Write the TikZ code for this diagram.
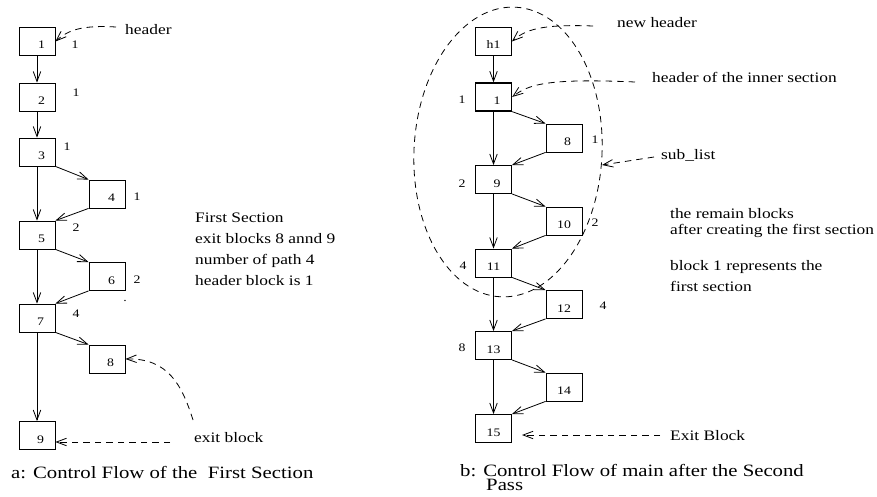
\documentclass[tikz,border=0pt]{standalone}
\usepackage{fontspec}
\setmainfont{Liberation Serif}[FakeStretch=1.2]
\usetikzlibrary{arrows.meta,calc,shapes.geometric}
\begin{document}
\begin{tikzpicture}[x=1pt,y=-1pt,
  blk/.style={draw, line width=0.8pt, minimum width=36pt, minimum height=28pt, inner sep=0pt,
              text height=15pt, text depth=0pt, font=\fontsize{11.5}{13}\selectfont},
  num/.style={font=\fontsize{11.5}{13}\selectfont, inner sep=0pt},
  note/.style={font=\fontsize{14.5}{17}\selectfont, inner sep=0pt, anchor=base west},
  captext/.style={font=\fontsize{17.3}{19}\selectfont, inner sep=0pt, anchor=base west},
  flow/.style={line width=0.8pt, -{Straight Barb[length=10pt,width=7.5pt]}},
  ptr/.style={line width=0.8pt, dash pattern=on 6.5pt off 5pt, -{Straight Barb[length=10pt,width=7.5pt]}},
]
\useasboundingbox (0,0) rectangle (877,497);

% ---------- left: first section ----------
\node[blk] (a1) at (37,41.5) {\hspace{9pt}1};
\node[blk] (a2) at (37,97) {\hspace{9pt}2};
\node[blk] (a3) at (37,152) {\hspace{9pt}3};
\node[blk] (a4) at (107,194) {\hspace{9pt}4};
\node[blk] (a5) at (37,235) {\hspace{9pt}5};
\node[blk] (a6) at (107,276.5) {\hspace{9pt}6};
\node[blk] (a7) at (37,318) {\hspace{7pt}7};
\node[blk] (a8) at (107,359) {\hspace{7pt}8};
\node[blk] (a9) at (37,435.5) {\hspace{7pt}9};

\draw[flow] (a1) -- (a2);
\draw[flow] (a2) -- (a3);
\draw[flow] (a3) -- (a5);
\draw[flow] (a5) -- (a7);
\draw[flow] (a7) -- (a9);
\draw[flow] (a3.south east) -- (a4.north west);
\draw[flow] (a4.south west) -- (a5.north east);
\draw[flow] (a5.south east) -- (a6.north west);
\draw[flow] (a6.south west) -- (a7.north east);
\draw[flow] (a7.south east) -- (a8.north west);

\node[num] (la1) at (75,45) {1};
\node[num] (la2) at (76,93) {1};
\node[num] (la3) at (67,147) {1};
\node[num] (la4) at (137,197) {1};
\node[num] (la5) at (76,228) {2};
\node[num] (la6) at (137,280) {2};
\node[num] (la7) at (76,314) {4};
\node[num] (dot) at (125,301) {.};

\node[note] (tha) at (125,35) {header};
\coordinate (hA) at (116,27);
\draw[ptr] (hA) .. controls (82,25) and (68,30) .. (a1.east);

\node[note] (fs1) at (195,222) {First Section};
\node[note] (fs2) at (195,243) {exit blocks 8 annd 9};
\node[note] (fs3) at (195,264) {number of path 4};
\node[note] (fs4) at (195,285) {header block is 1};

\node[note] (teb) at (194,442) {exit block};
\coordinate (eA) at (170,442);
\draw[ptr] (eA) -- (a9.east |- eA);
\coordinate (xA) at (193,420);
\draw[ptr] (xA) .. controls (182,385) and (168,358) .. (a8.east);

\node[captext] (capa) at (11,478) {a: Control Flow of the\ \ First Section};

% ---------- right: main after second pass ----------
\node[draw, ellipse, dash pattern=on 6.5pt off 5pt, line width=0.8pt, minimum width=188pt,
      minimum height=290pt, inner sep=0pt, rotate=-3] (sub) at (508,152) {};

\node[blk] (h1) at (493.5,41.5) {h1};
\node[blk, line width=1.3pt] (b1) at (493.5,97) {\hspace{7pt}1};
\node[blk] (b8) at (564,138) {\hspace{7pt}8};
\node[blk] (b9) at (493.5,179.5) {\hspace{7pt}9};
\node[blk] (b10) at (564,221) {10};
\node[blk] (b11) at (493.5,263) {11};
\node[blk] (b12) at (564,304.5) {12};
\node[blk] (b13) at (493.5,345.5) {13};
\node[blk] (b14) at (564,387) {14};
\node[blk] (b15) at (493.5,428.5) {15};

\draw[flow] (h1) -- (b1);
\draw[flow] (b1) -- (b9);
\draw[flow] (b9) -- (b11);
\draw[flow] (b11) -- (b13);
\draw[flow] (b13) -- (b15);
\draw[flow] (b1.south east) -- (b8.north west);
\draw[flow] (b8.south west) -- (b9.north east);
\draw[flow] (b9.south east) -- (b10.north west);
\draw[flow] (b10.south west) -- (b11.north east);
\draw[flow] (b11.south east) -- (b12.north west);
\draw[flow] (b12.south west) -- (b13.north east);
\draw[flow] (b13.south east) -- (b14.north west);
\draw[flow] (b14.south west) -- (b15.north east);

\node[num] (lb1) at (462,100) {1};
\node[num] (lb8) at (595,140) {1};
\node[num] (lb9) at (462,184) {2};
\node[num] (lb10) at (595,223) {2};
\node[num] (lb11) at (463,266) {4};
\node[num] (lb12) at (603,306) {4};
\node[num] (lb13) at (462,348) {8};

\node[note] (tnh) at (617,28) {new header};
\coordinate (nh) at (593,26);
\draw[ptr] (nh) .. controls (540,24) and (525,30) .. (h1.east);

\node[note] (thi) at (652,83) {header of the inner section};
\coordinate (hi) at (635,82);
\draw[ptr] (hi) .. controls (545,78) and (528,85) .. (b1.east);

\node[note] (tsl) at (661,160) {sub\_list};
\coordinate (sl) at (654,157);
\coordinate (slt) at (602,165);
\draw[ptr] (sl) -- (slt);

\node[note] (tr1) at (670,218) {the remain blocks};
\node[note] (tr2) at (670,234) {after creating the first section};
\node[note] (tb1) at (670,270) {block 1 represents the};
\node[note] (tb2) at (670,291) {first section};

\node[note] (tEB) at (670,440) {Exit Block};
\coordinate (eb) at (660,435);
\coordinate (ebt) at (522,435);
\draw[ptr] (eb) -- (ebt);

\node[captext] (capb) at (460,476) {b: Control Flow of main after the Second};
\node[captext] (capb2) at (486,490) {Pass};
\end{tikzpicture}
\end{document}
